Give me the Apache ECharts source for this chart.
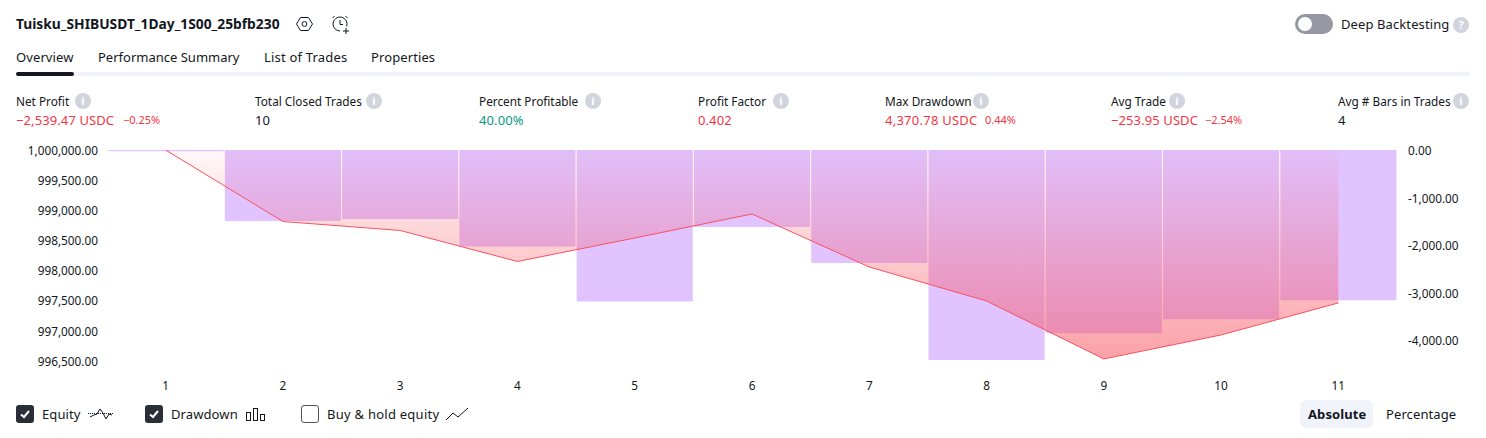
<!DOCTYPE html>
<html><head><meta charset="utf-8">
<script src="https://cdn.jsdelivr.net/npm/echarts@6/dist/echarts.min.js"></script>
<style>
html,body{margin:0;padding:0;background:#fff;width:1486px;height:438px;overflow:hidden;font-family:"Noto Sans",sans-serif;color:#131722}
#chart{position:absolute;left:0;top:0;width:1486px;height:438px}
.t{position:absolute;white-space:nowrap;line-height:18px;font-size:13px;letter-spacing:.1px}
.lab{font-size:11.8px;letter-spacing:0}
.val{font-size:13px}
.small{font-size:11px;letter-spacing:0}
.red{color:#f23645}.green{color:#089981}
.info{position:absolute;width:16px;height:16px;border-radius:50%;background:#d1d4dc;color:#fff;font:bold 11px/16px "Noto Sans";text-align:center}
.cb{position:absolute;top:405px;width:18px;height:18px;border-radius:3px;box-sizing:border-box}
.cb.on{background:#2a2e39}.cb.off{border:1px solid #50535e;background:#fff}
svg{position:absolute;overflow:visible}
</style></head><body>
<div id="chart"></div>
<div class="t" style="left:16px;top:15px;font-weight:700;font-size:13.8px;letter-spacing:0" id="title">Tuisku_SHIBUSDT_1Day_1S00_25bfb230</div>
<svg style="left:296px;top:15px" width="18" height="18" fill="none" stroke="#131722"><path d="M4.5 2.5h8l4 6.5-4 6.5h-8l-4-6.5z"/><circle cx="8.5" cy="9" r="2.4"/></svg>
<svg style="left:330px;top:14px" width="20" height="20" fill="none" stroke="#131722"><path d="M10 17a7 7 0 1 1 6.6-4.6M10 6v4.5h3M2.5 4l2-2M15.500 2l2 2M13 17h6M16 14v6"/></svg>
<div class="t" style="left:16px;top:48px">Overview</div>
<div class="t" style="left:98px;top:48px;letter-spacing:0">Performance Summary</div>
<div class="t" style="left:264px;top:48px;letter-spacing:.2px">List of Trades</div>
<div class="t" style="left:371px;top:48px">Properties</div>
<div style="position:absolute;left:16px;top:72px;width:1454px;height:4px;background:#f0f3fa;border-radius:2px"></div>
<div style="position:absolute;left:16px;top:72px;width:58px;height:4px;background:#131722;border-radius:2px"></div>
<div style="position:absolute;left:1295px;top:14px;width:38px;height:20px;border-radius:10px;background:#9598a1"></div>
<div style="position:absolute;left:1298px;top:17px;width:14px;height:14px;border-radius:50%;background:#fff"></div>
<div class="t" style="left:1341px;top:15px">Deep Backtesting</div>
<div class="info" style="left:1453px;top:17px">?</div>

<div class="t lab" style="left:16px;top:92px">Net Profit</div><div class="info" style="left:75px;top:93px">i</div>
<div class="t val red" style="left:16px;top:111px">−2,539.47 USDC</div><div class="t small red" style="left:123px;top:111px">−0.25%</div>
<div class="t lab" style="left:255px;top:92px">Total Closed Trades</div><div class="info" style="left:366px;top:93px">i</div>
<div class="t val" style="left:255px;top:111px">10</div>
<div class="t lab" style="left:479px;top:92px">Percent Profitable</div><div class="info" style="left:585px;top:93px">i</div>
<div class="t val green" style="left:479px;top:111px">40.00%</div>
<div class="t lab" style="left:698px;top:92px">Profit Factor</div><div class="info" style="left:773px;top:93px">i</div>
<div class="t val red" style="left:698px;top:111px">0.402</div>
<div class="t lab" style="left:885px;top:92px">Max Drawdown</div><div class="info" style="left:973px;top:93px">i</div>
<div class="t val red" style="left:885px;top:111px;letter-spacing:.25px">4,370.78 USDC</div><div class="t small red" style="left:985px;top:111px">0.44%</div>
<div class="t lab" style="left:1111px;top:92px">Avg Trade</div><div class="info" style="left:1169px;top:93px">i</div>
<div class="t val red" style="left:1111px;top:111px">−253.95 USDC</div><div class="t small red" style="left:1205px;top:111px">−2.54%</div>
<div class="t lab" style="left:1338px;top:92px">Avg # Bars in Trades</div><div class="info" style="left:1453px;top:93px">i</div>
<div class="t val" style="left:1338px;top:111px">4</div>

<div class="cb on" style="left:16px"></div>
<svg style="left:16px;top:405px" width="18" height="18" fill="none" stroke="#fff" stroke-width="2"><path d="M5 9.500l3 2.500 5-6"/></svg>
<div class="t" style="left:42px;top:405px">Equity</div>
<svg style="left:88px;top:405px" width="26" height="18" fill="none" stroke="#131722" stroke-width="1"><path d="M2 12l4-2 3-1 3-5 3 4 3 6 3-5 3 1"/><path d="M0 8.500h25" stroke-dasharray="1 1"/></svg>
<div class="cb on" style="left:145px"></div>
<svg style="left:145px;top:405px" width="18" height="18" fill="none" stroke="#fff" stroke-width="2"><path d="M5 9.500l3 2.500 5-6"/></svg>
<div class="t" style="left:171px;top:405px">Drawdown</div>
<svg style="left:246px;top:405px" width="20" height="18" fill="none" stroke="#131722" stroke-width="1"><rect x=".5" y="7.500" width="4" height="8"/><rect x="7.500" y="3.500" width="4" height="12"/><rect x="14.500" y="9.500" width="4" height="6"/></svg>
<div class="cb off" style="left:301px"></div>
<div class="t" style="left:327px;top:405px;letter-spacing:.25px">Buy &amp; hold equity</div>
<svg style="left:445px;top:405px" width="24" height="18" fill="none" stroke="#131722" stroke-width="1"><path d="M1 15l7-7 5 4 10-9"/></svg>
<div style="position:absolute;left:1300px;top:400px;width:73px;height:28px;border-radius:6px;background:#f0f3fa"></div>
<div class="t" style="left:1308px;top:405px;font-weight:700">Absolute</div>
<div class="t" style="left:1386px;top:405px">Percentage</div>

<script>
const categories = ['1','2','3','4','5','6','7','8','9','10','11'];
const equity = [1000000,998812,998663,998148,998538,998937,998056,997492,996528,996927,997459];
const drawdown = [-25,-1495,-1450,-2030,-3190,-1620,-2380,-4420,-3855,-3560,-3160];
const leftMin = 996250, leftMax = 1000000, leftStep = 250;
const rightMin = -4750, rightMax = 0, rightStep = 250;
const fmt = v => v.toLocaleString('en-US',{minimumFractionDigits:2,maximumFractionDigits:2});
const chart = echarts.init(document.getElementById('chart'),null,{renderer:'svg'});
const lab = {color:'#131722',fontFamily:'Noto Sans',fontSize:11.8};
chart.setOption({
  animation:false,
  grid:{left:107,top:150,width:1290,height:225.7},
  xAxis:{type:'category',data:categories,axisLine:{show:false},axisTick:{show:false},
    axisLabel:Object.assign({},lab,{margin:3})},
  yAxis:[
    {type:'value',min:leftMin,max:leftMax,interval:leftStep,position:'left',splitLine:{show:false},axisLine:{show:false},axisTick:{show:false},
      axisLabel:Object.assign({},lab,{margin:9,formatter:v=>v%500===0&&v>=996500?fmt(v):''})},
    {type:'value',min:rightMin,max:rightMax,interval:rightStep,position:'right',splitLine:{show:false},axisLine:{show:false},axisTick:{show:false},
      axisLabel:Object.assign({},lab,{margin:11,formatter:v=>v%1000===0?fmt(v):''})}
  ],
  series:[
    {name:'Drawdown',type:'bar',yAxisIndex:1,data:drawdown,barCategoryGap:'1%',z:1,itemStyle:{color:'#e1c3ff'}},
    {name:'Equity',type:'line',yAxisIndex:0,data:equity,symbol:'none',z:2,
      lineStyle:{color:'#f7525f',width:1},
      areaStyle:{origin:'end',opacity:1,color:new echarts.graphic.LinearGradient(0,0,0,1,[
        {offset:0,color:'rgba(247,82,95,0.04)'},{offset:1,color:'rgba(247,82,95,0.55)'}])}}
  ]
});
</script>
</body></html>
